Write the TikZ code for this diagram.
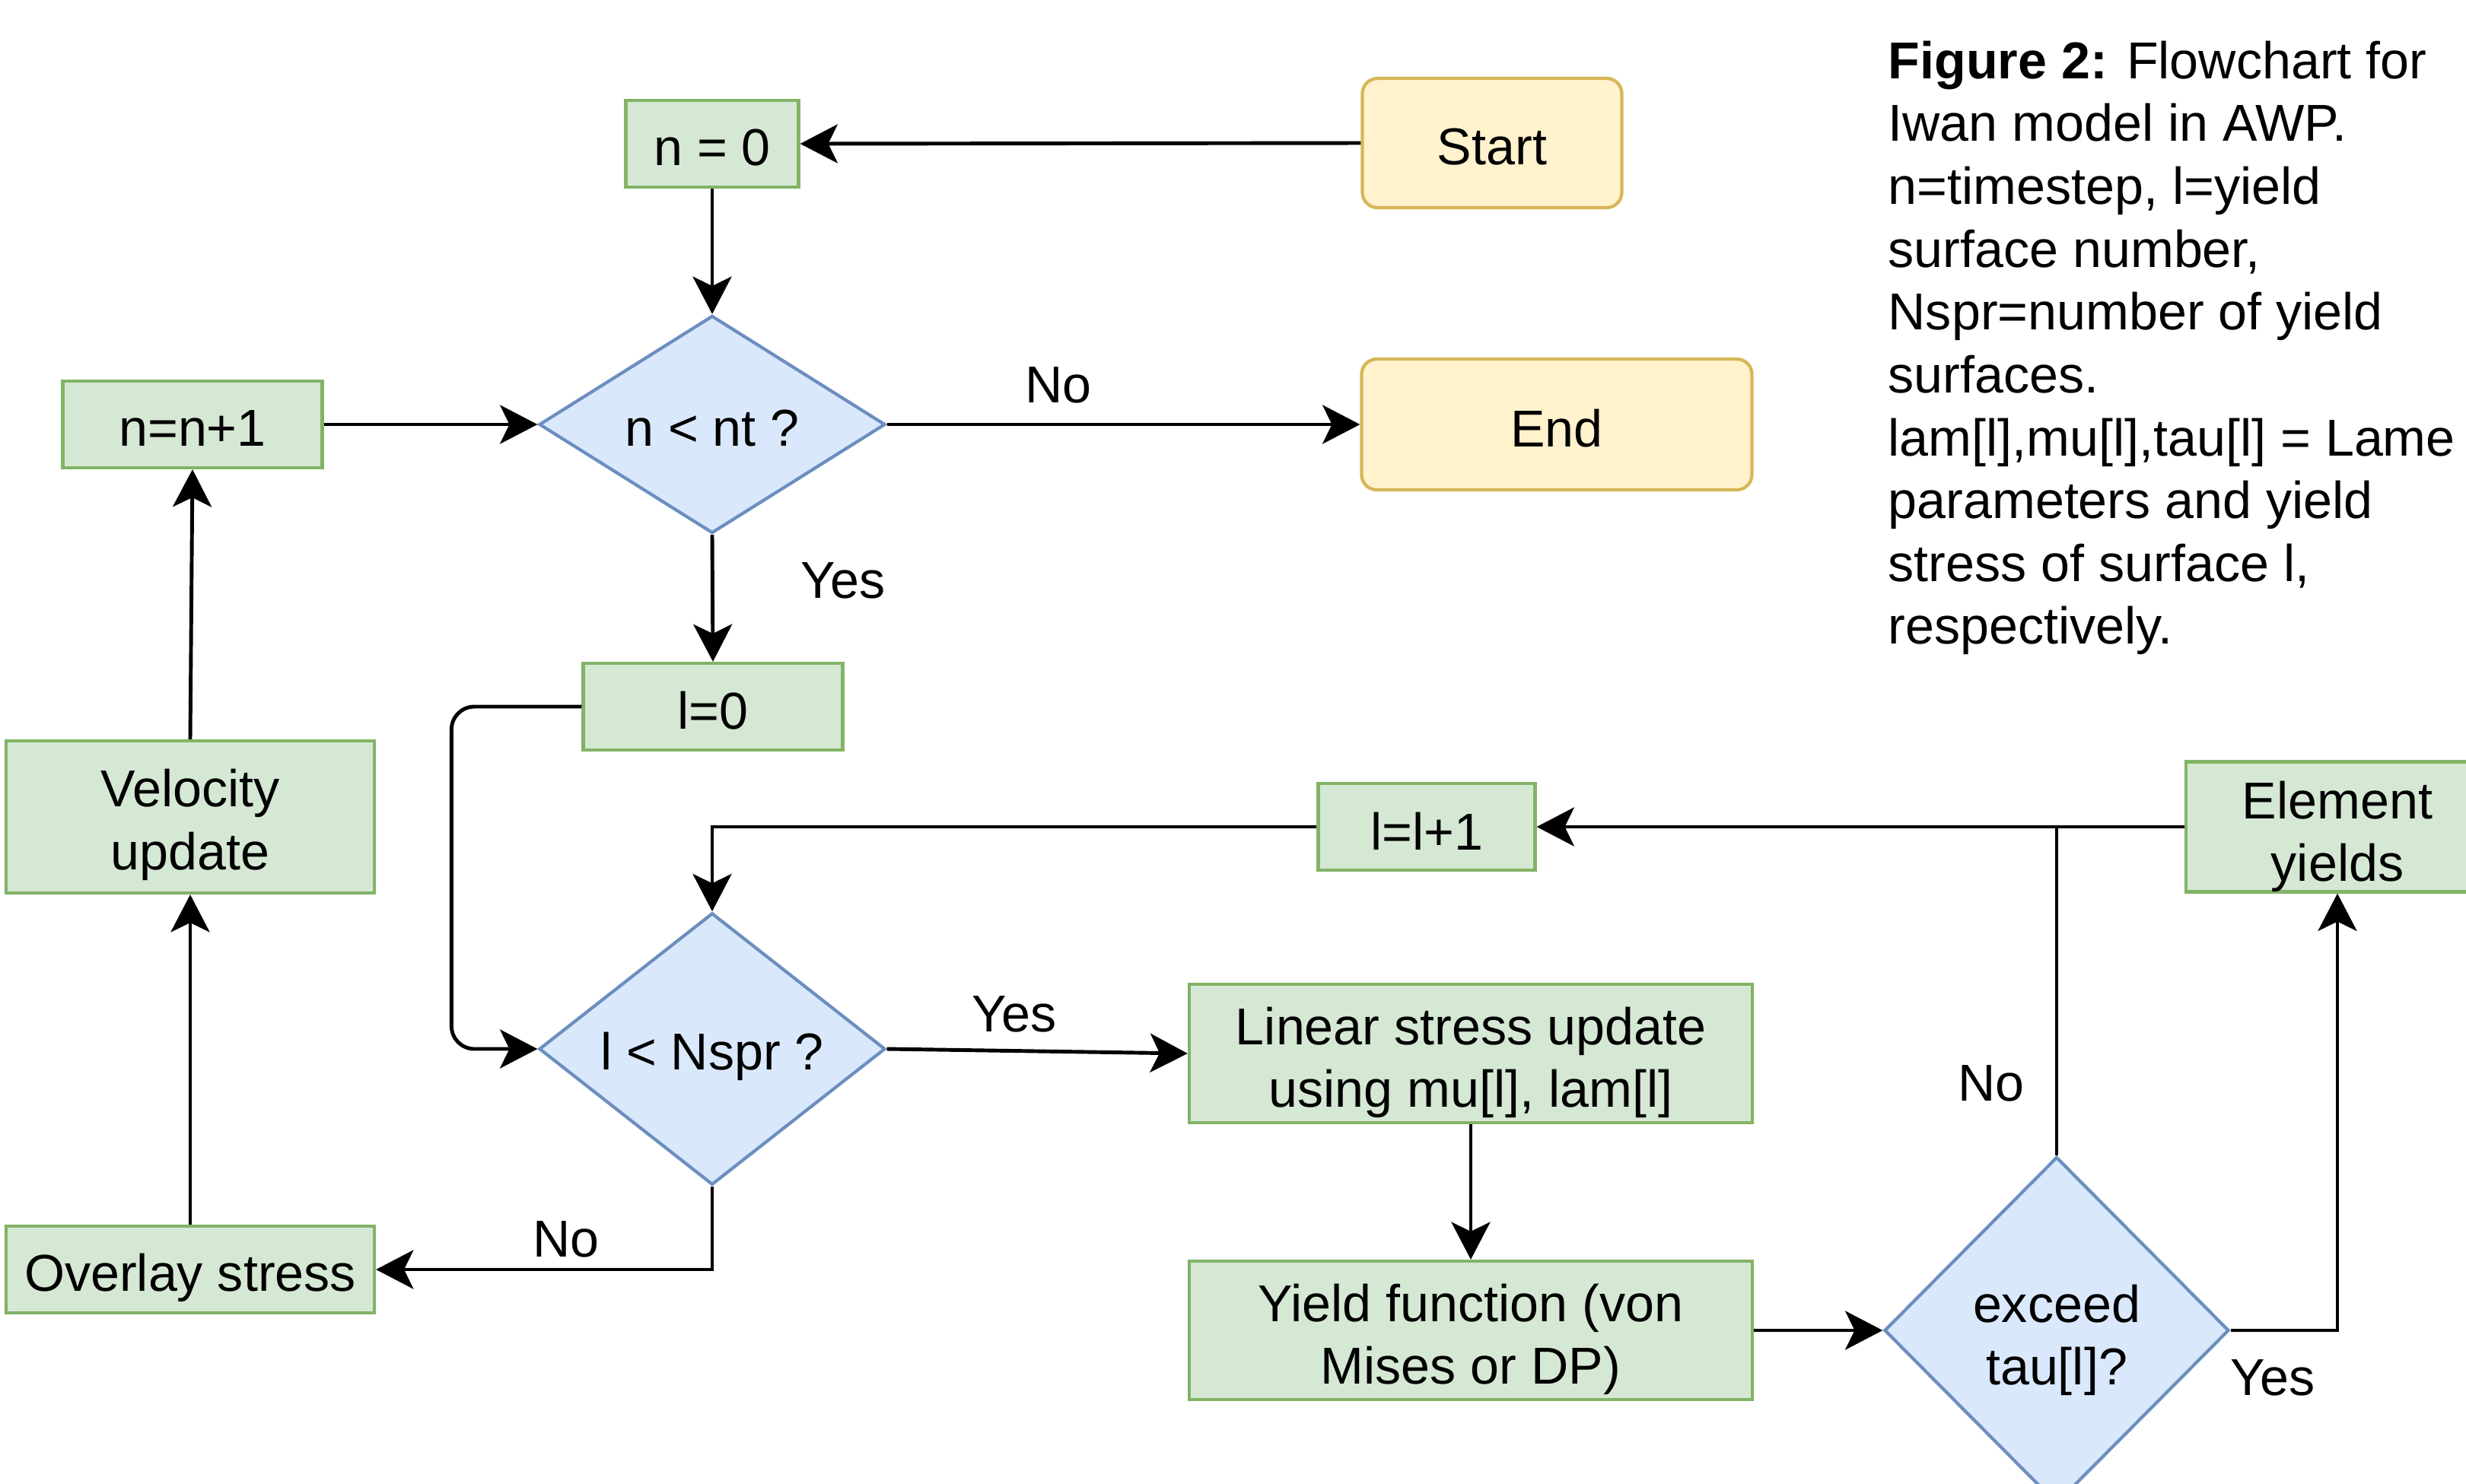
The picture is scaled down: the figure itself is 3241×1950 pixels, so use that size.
\documentclass[tikz,border=0pt]{standalone}
\usepackage{fontspec}
\setmainfont{Liberation Sans}
\usetikzlibrary{arrows.meta,shapes.geometric}
\definecolor{gfill}{HTML}{D5E8D4}
\definecolor{gdraw}{HTML}{82B366}
\definecolor{bfill}{HTML}{DAE8FC}
\definecolor{bdraw}{HTML}{6C8EBF}
\definecolor{yfill}{HTML}{FFF2CC}
\definecolor{ydraw}{HTML}{D6B656}
\newcommand\dnt[2]{\raisebox{-#1}[\height][\depth]{#2}}
\begin{document}
\begin{tikzpicture}[x=0.01cm,y=-0.01cm,
  every node/.style={font=\fontsize{19.4pt}{23.5pt}\selectfont},
  proc/.style 2 args={draw=gdraw, fill=gfill, line width=1.2pt, inner sep=0pt,
    minimum width=#1*0.01cm, minimum height=#2*0.01cm, align=center},
  term/.style 2 args={draw=ydraw, fill=yfill, line width=1.2pt, inner sep=0pt,
    rounded corners=0.2cm, minimum width=#1*0.01cm, minimum height=#2*0.01cm, align=center},
  dec/.style 2 args={diamond, draw=bdraw, fill=bfill, line width=1.2pt, inner sep=0pt,
    minimum width=#1*0.01cm, minimum height=#2*0.01cm, align=center},
  conn/.style={draw=black, line width=1.4pt, -{Stealth[length=14pt,width=14.5pt,inset=3.5pt]}},
  plainline/.style={draw=black, line width=1.4pt},
  lbl/.style={inner sep=0pt}
]
\fill[white] (0,0) rectangle (3241,1950);
\useasboundingbox (0,0) rectangle (3241,1950);

% nodes
\node[proc={227}{114}] (n0) at (936,189) {\dnt{1.5pt}{n = 0}};
\node[term={341}{170}] (start) at (1961,188) {\dnt{1.5pt}{Start}};
\node[dec={455}{286}] (d1) at (936,558) {\dnt{1.5pt}{n < nt ?}};
\node[proc={341}{114}] (nn1) at (253,558) {\dnt{1.5pt}{n=n+1}};
\node[term={513}{172}] (endn) at (2046,558) {\dnt{1.5pt}{End}};
\node[proc={341}{114}] (l0) at (937,929) {\dnt{1.5pt}{l=0}};
\node[proc={484}{200}] (vel) at (250,1074) {\dnt{3pt}{Velocity}\\\dnt{3pt}{update}};
\node[proc={285}{114}] (ll1) at (1875,1087) {\dnt{1.5pt}{l=l+1}};
\node[proc={398}{171}] (elem) at (3072,1087) {\dnt{3.6pt}{Element}\\\dnt{3.6pt}{yields}};
\node[dec={455}{351}] (d2) at (936,1379) {\dnt{2.9pt}{l < Nspr ?}};
\node[proc={740}{182}] (lin) at (1933,1385) {\dnt{3.4pt}{Linear stress update}\\\dnt{3.4pt}{using mu[l], lam[l]}};
\node[proc={740}{182}] (yf) at (1933,1749) {\dnt{3.4pt}{Yield function (von}\\\dnt{3.4pt}{Mises or DP)}};
\node[dec={453}{456}] (d3) at (2703,1749) {\dnt{3.6pt}{exceed}\\\dnt{3.6pt}{tau[l]?}};
\node[proc={484}{114}] (ov) at (250,1669) {\dnt{3pt}{Overlay stress}};

% labels
\node[lbl] (lno1) at (1391,506) {No};
\node[lbl] (lyes1) at (1108,763) {Yes};
\node[lbl] (lyes2) at (1333,1333) {Yes};
\node[lbl] (lno2) at (744,1629) {No};
\node[lbl] (lno3) at (2617,1424) {No};
\node[lbl] (lyes3) at (2987,1811) {Yes};

% caption
\node[anchor=north west, inner sep=0pt, align=left] (cap) at (2481,53)
  {\textbf{Figure 2:} Flowchart for\\Iwan model in AWP.\\n=timestep, l=yield\\surface number,\\Nspr=number of yield\\surfaces.\\lam[l],mu[l],tau[l] = Lame\\parameters and yield\\stress of surface l,\\respectively.};

% connectors
\draw[conn] (start.west) -- (n0.east);
\draw[conn] (n0.south) -- (d1.north);
\draw[conn] (d1.east) -- (endn.west);
\draw[conn] (d1.south) -- (l0.north);
\draw[conn] (nn1.east) -- (d1.west);
\draw[conn, rounded corners=0.3cm] (l0.west) -- ++(-171,0) |- (d2.west);
\draw[conn] (d2.east) -- (lin.west);
\draw[conn] (d2.south) |- (ov.east);
\draw[conn] (ov.north) -- (vel.south);
\draw[conn] (vel.north) -- (nn1.south);
\draw[conn] (lin.south) -- (yf.north);
\draw[conn] (yf.east) -- (d3.west);
\draw[conn] (d3.east) -| (elem.south);
\draw[conn] (elem.west) -- (ll1.east);
\draw[plainline] (d3.north) -- (d3.north |- ll1.east);
\draw[conn] (ll1.west) -| (d2.north);
\end{tikzpicture}
\end{document}
